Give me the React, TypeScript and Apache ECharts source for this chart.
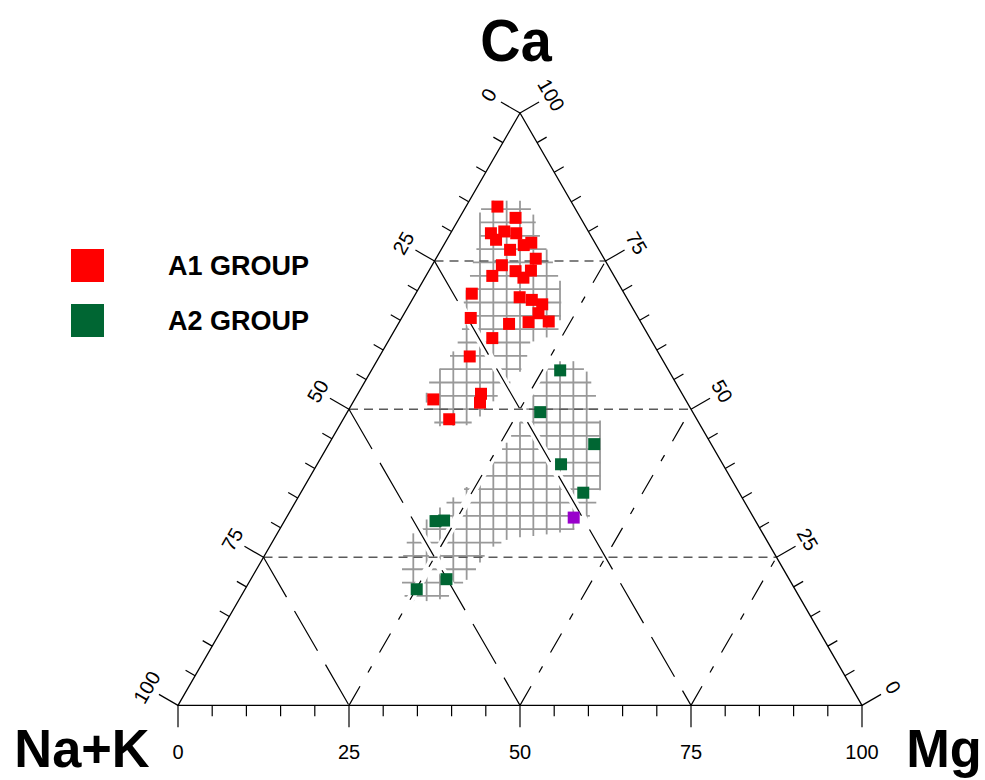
import React, { useEffect, useRef } from "react";
import * as echarts from "echarts";

// ---- Data (ternary percentages; Na+K = 100 - Ca - Mg) ----
const A1_CA = [84.2, 82.3, 79.7, 78.6, 80.0, 79.7, 76.9, 77.7, 78.1, 75.4, 74.3, 72.5, 73.3, 72.2, 73.4, 69.5, 68.9, 68.45, 67.7, 66.2, 64.7, 64.8, 64.4, 65.4, 62.0, 58.9, 52.6, 51.1, 51.65, 48.3];
const A1_MG = [4.6, 8.2, 5.9, 7.2, 7.7, 9.6, 10.1, 11.7, 12.6, 14.6, 10.2, 9.7, 12.7, 14.4, 14.9, 8.2, 15.5, 17.5, 19.4, 19.6, 18.9, 21.8, 16.2, 10.1, 14.95, 13.2, 18.0, 18.6, 11.5, 15.5];
const A2_CA = [56.55, 49.5, 44.1, 40.7, 35.9, 31.1, 31.2, 21.3, 19.6];
const A2_MG = [27.6, 28.2, 38.8, 35.65, 41.3, 22.1, 23.3, 28.6, 25.1];
const OTHER_CA = [31.7];
const OTHER_MG = [42.0];

// Shaded (hatched) field outlines, as ternary Ca / Mg percentages
const UPPER_CA = [85.2, 85.2, 83.6, 79.3, 75.1, 71.7, 66.7, 63.3, 61.95, 61.3, 58.2, 55.7, 53.2, 50.6, 48.95, 47.3, 47.1, 48.45, 52.3, 54.9, 57.2, 60.3, 63.3, 68.4, 70.9, 74.3, 79.3, 83.2];
const UPPER_MG = [2.1, 7.7, 9.95, 13.25, 17.15, 20.0, 22.75, 23.95, 22.7, 20.85, 21.8, 21.85, 20.8, 20.3, 19.9, 18.75, 14.75, 12.35, 10.1, 9.35, 10.0, 10.45, 9.85, 7.6, 6.95, 5.85, 4.5, 2.55];
const LOWER_CA = [58.1, 58.1, 56.2, 52.3, 48.1, 41.4, 36.3, 32.9, 30.4, 29.4, 28.7, 28.2, 26.5, 24.1, 21.9, 20.3, 18.1, 17.6, 17.6, 18.9, 24.5, 27.85, 30.4, 33.4, 36.6, 40.5, 43.9, 47.8, 52.3, 56.2];
const LOWER_MG = [25.75, 28.95, 31.8, 34.95, 37.65, 41.1, 43.55, 44.35, 44.0, 42.6, 38.55, 34.4, 32.35, 32.1, 32.05, 31.05, 30.25, 28.0, 25.1, 23.3, 20.5, 19.6, 20.2, 21.6, 23.65, 25.35, 25.85, 26.1, 25.75, 24.97];

const TICK_LABELS = [0, 25, 50, 75, 100];
const GUIDE_LEVELS = [25, 50, 75];
const TICK_STEPS = 20; // one tick every 5 %
const HATCH_STEP = 1.95; // hatch spacing in % of side

const SQ3 = Math.sqrt(3) / 2;
const toXY = (ca: number, mg: number) => [mg + ca / 2, ca * SQ3];

const FONT = '"Liberation Sans", Arial, Helvetica, sans-serif';

function hatch(pts: number[][], ox: number, oy: number, step: number, out: any[]) {
  const xs = pts.map((p) => p[0]);
  const ys = pts.map((p) => p[1]);
  const minX = Math.min(...xs), maxX = Math.max(...xs);
  const minY = Math.min(...ys), maxY = Math.max(...ys);
  const st = { stroke: "#999999", lineWidth: 1.8 };
  for (let c = ox + Math.ceil((minX - ox) / step) * step; c <= maxX; c += step) {
    const ints: number[] = [];
    for (let i = 0; i < pts.length; i++) {
      const p = pts[i], q = pts[(i + 1) % pts.length];
      if ((p[0] <= c && q[0] > c) || (q[0] <= c && p[0] > c)) {
        const t = (c - p[0]) / (q[0] - p[0]);
        ints.push(p[1] + t * (q[1] - p[1]));
      }
    }
    ints.sort((a, b) => a - b);
    for (let k = 0; k + 1 < ints.length; k += 2)
      out.push({ type: "line", shape: { x1: c, y1: ints[k], x2: c, y2: ints[k + 1] }, style: st });
  }
  for (let r = oy + Math.ceil((minY - oy) / step) * step; r <= maxY; r += step) {
    const ints: number[] = [];
    for (let i = 0; i < pts.length; i++) {
      const p = pts[i], q = pts[(i + 1) % pts.length];
      if ((p[1] <= r && q[1] > r) || (q[1] <= r && p[1] > r)) {
        const t = (r - p[1]) / (q[1] - p[1]);
        ints.push(p[0] + t * (q[0] - p[0]));
      }
    }
    ints.sort((a, b) => a - b);
    for (let k = 0; k + 1 < ints.length; k += 2)
      out.push({ type: "line", shape: { x1: ints[k], y1: r, x2: ints[k + 1], y2: r }, style: st });
  }
}

function renderFrame(_params: any, api: any) {
  const P = (ca: number, mg: number) => api.coord(toXY(ca, mg));
  const A = P(100, 0); // Ca
  const B = P(0, 0); // Na+K
  const C = P(0, 100); // Mg
  const unit = api.size([1, 0])[0];
  const step = HATCH_STEP * unit;
  const org = P(50, 25);
  const children: any[] = [];

  // hatched fields
  const upper = UPPER_CA.map((ca, i) => P(ca, UPPER_MG[i]));
  const lower = LOWER_CA.map((ca, i) => P(ca, LOWER_MG[i]));
  hatch(upper, org[0], org[1], step, children);
  hatch(lower, org[0], org[1], step, children);

  const longDash: any[] = [];
  const dashDot: any[] = [];
  const horiz: any[] = [];
  GUIDE_LEVELS.forEach((v) => {
    horiz.push([P(v, 0), P(v, 100 - v)]);
    longDash.push([P(100 - v, 0), P(0, 100 - v)]);
    dashDot.push([P(0, v), P(100 - v, v)]);
  });

  // white halos under the diagonal guide lines
  [...longDash, ...dashDot].forEach(([s, e]) => {
    children.push({ type: "line", shape: { x1: s[0], y1: s[1], x2: e[0], y2: e[1] }, style: { stroke: "#ffffff", lineWidth: 8 } });
  });

  horiz.forEach(([s, e]) => {
    children.push({ type: "line", shape: { x1: s[0], y1: s[1], x2: e[0], y2: e[1] }, style: { stroke: "#5a5a5a", lineWidth: 1.5, lineDash: [9, 6] } });
  });
  longDash.forEach(([s, e]) => {
    children.push({ type: "line", shape: { x1: s[0], y1: s[1], x2: e[0], y2: e[1] }, style: { stroke: "#000", lineWidth: 1.2, lineDash: [46, 16] } });
  });
  dashDot.forEach(([s, e]) => {
    children.push({ type: "line", shape: { x1: s[0], y1: s[1], x2: e[0], y2: e[1] }, style: { stroke: "#000", lineWidth: 1.2, lineDash: [22, 16, 7, 16] } });
  });

  // frame
  children.push({ type: "polygon", shape: { points: [A, B, C] }, style: { fill: "none", stroke: "#000", lineWidth: 1.3 } });

  // ticks + labels
  const edges = [
    { s: A, e: B, n: [-SQ3, -0.5], rot: Math.PI / 3, lab: (j: number) => TICK_LABELS[j], off: 36 },
    { s: A, e: C, n: [SQ3, -0.5], rot: -Math.PI / 3, lab: (j: number) => TICK_LABELS[TICK_LABELS.length - 1 - j], off: 36 },
    { s: B, e: C, n: [0, 1], rot: 0, lab: (j: number) => TICK_LABELS[j], off: 47 },
  ];
  edges.forEach((ed) => {
    for (let k = 0; k <= TICK_STEPS; k++) {
      const t = k / TICK_STEPS;
      const px = ed.s[0] + t * (ed.e[0] - ed.s[0]);
      const py = ed.s[1] + t * (ed.e[1] - ed.s[1]);
      const major = k % 5 === 0;
      const len = major ? 22 : 11;
      children.push({ type: "line", shape: { x1: px, y1: py, x2: px + ed.n[0] * len, y2: py + ed.n[1] * len }, style: { stroke: "#000", lineWidth: 1.2 } });
      if (major) {
        const j = k / 5;
        children.push({
          type: "text",
          x: px + ed.n[0] * ed.off,
          y: py + ed.n[1] * ed.off,
          rotation: ed.rot,
          style: { text: String(ed.lab(j)), fontSize: 20, fontFamily: FONT, fill: "#000", align: "center", verticalAlign: "middle" },
        });
      }
    }
  });

  return { type: "group", children };
}

export default function App() {
  const ref = useRef<HTMLDivElement>(null);
  useEffect(() => {
    if (!ref.current) return;
    const chart = echarts.init(ref.current, undefined, { renderer: "svg" });
    const side = 684;
    chart.setOption({
      animation: false,
      backgroundColor: "#ffffff",
      grid: { left: 178, top: 113, width: side, height: side * SQ3 },
      xAxis: { type: "value", min: 0, max: 100, show: false },
      yAxis: { type: "value", min: 0, max: 100 * SQ3, show: false },
      legend: {
        data: ["A1 GROUP", "A2 GROUP"],
        orient: "vertical",
        left: 71,
        top: 249,
        padding: 0,
        itemWidth: 33,
        itemHeight: 33,
        itemGap: 22,
        icon: "rect",
        selectedMode: false,
        textStyle: { fontSize: 27, fontWeight: "bold", color: "#000", fontFamily: FONT, padding: [0, 0, 0, 59] },
      },
      graphic: [
        { type: "text", x: 516, y: 40, scaleX: 0.93, style: { text: "Ca", fontSize: 60, fontWeight: "bold", fontFamily: FONT, fill: "#000", align: "center", verticalAlign: "middle" } },
        { type: "text", x: 82, y: 748, scaleX: 0.97, style: { text: "Na+K", fontSize: 54, fontWeight: "bold", fontFamily: FONT, fill: "#000", align: "center", verticalAlign: "middle" } },
        { type: "text", x: 944, y: 748, scaleX: 0.97, style: { text: "Mg", fontSize: 54, fontWeight: "bold", fontFamily: FONT, fill: "#000", align: "center", verticalAlign: "middle" } },
      ],
      series: [
        { type: "custom", name: "frame", silent: true, z: 1, renderItem: renderFrame, data: [[0, 0]] },
        { type: "scatter", name: "A1 GROUP", symbol: "rect", symbolSize: 12, z: 5, itemStyle: { color: "#ff0000", opacity: 1 }, data: A1_CA.map((ca, i) => toXY(ca, A1_MG[i])) },
        { type: "scatter", name: "A2 GROUP", symbol: "rect", symbolSize: 12, z: 5, itemStyle: { color: "#006633", opacity: 1 }, data: A2_CA.map((ca, i) => toXY(ca, A2_MG[i])) },
        { type: "scatter", name: "Other", symbol: "rect", symbolSize: 12, z: 5, itemStyle: { color: "#9900cc", opacity: 1 }, data: OTHER_CA.map((ca, i) => toXY(ca, OTHER_MG[i])) },
      ],
    });
    return () => chart.dispose();
  }, []);
  return <div ref={ref} style={{ position: "fixed", left: 0, top: 0, width: 985, height: 780 }} />;
}
